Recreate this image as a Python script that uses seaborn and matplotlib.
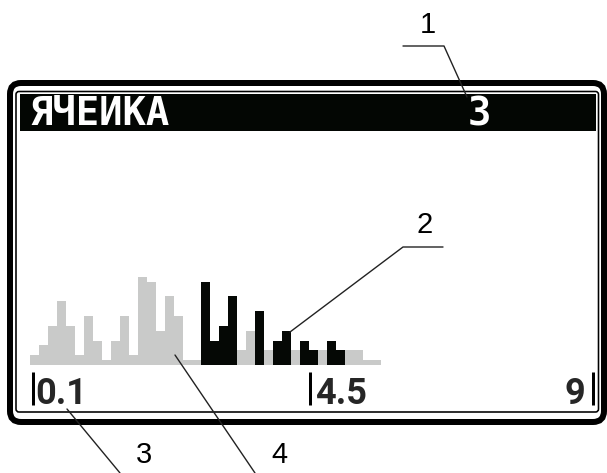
import numpy as np
import pandas as pd
import matplotlib
matplotlib.use("Agg")
import matplotlib.pyplot as plt
import seaborn as sns
from matplotlib.patches import FancyBboxPatch, Rectangle

sns.set_style("white")

# histogram data (LCD rows per bin)
bin_no = list(range(39))
fon = [2, 4, 8, 13, 8, 2, 10, 5, 1, 5, 10, 2, 18, 17, 7, 14, 10, 1, 1,
       1, 1, 1, 1, 3, 7, 3, 3, 3, 3, 3, 3, 3, 3, 3, 3, 3, 3, 1, 1]
yacheika = [0, 0, 0, 0, 0, 0, 0, 0, 0, 0, 0, 0, 0, 0, 0, 0, 0, 0, 0,
            17, 5, 8, 14, 0, 0, 11, 0, 5, 7, 0, 5, 3, 0, 5, 3, 0, 0, 0, 0]

baslik = "ЯЧЕИКА"
hucre_no = "3"
alt_etiketler = ["0.1", "4.5", "9"]
cagri = ["1", "2", "3", "4"]

df = pd.DataFrame({"bin": bin_no, "fon": fon, "yacheika": yacheika})

W, H = 607, 473
fig = plt.figure(figsize=(W / 100, H / 100), dpi=100, facecolor="white")

# histogram axes, placed in pixel box
hx0, hbase, hw, hh = 30, 365, 351, 98
hx = fig.add_axes([hx0 / W, (H - hbase) / H, hw / W, hh / H])
sns.barplot(data=df, x="bin", y="fon", color="#c9cac9", width=1,
            saturation=1, linewidth=0, ax=hx)
sns.barplot(data=df, x="bin", y="yacheika", color="#050805", width=1,
            saturation=1, linewidth=0, ax=hx)
hx.set_xlim(-0.5, 38.5)
hx.set_ylim(0, 20)
hx.axis("off")
hx.set_zorder(1)

# drawing axes in pixel coordinates
ax = fig.add_axes([0, 0, 1, 1])
ax.set_xlim(0, W)
ax.set_ylim(H, 0)
ax.axis("off")
ax.set_zorder(2)

px = 72 / 100

# outer thick frame
ax.add_patch(FancyBboxPatch((10, 83), 594, 339, boxstyle="round,pad=0,rounding_size=11",
                            fill=False, ec="black", lw=6 * px))
# inner thin frame
ax.add_patch(FancyBboxPatch((16, 91.5), 582.5, 320.5, boxstyle="round,pad=0,rounding_size=3",
                            fill=False, ec="black", lw=1.6 * px))
# header bar
ax.add_patch(Rectangle((19.5, 94), 576.5, 37, fc="#030603", ec="none"))
ax.text(29, 125, baslik, color="white", fontsize=28, fontweight="bold",
        family="DejaVu Sans Mono", ha="left", va="baseline")
ax.text(468, 125, hucre_no, color="white", fontsize=28, fontweight="bold",
        family="DejaVu Sans Mono", ha="left", va="baseline")

# bottom scale labels
for xb in (33, 310, 592.5):
    ax.plot([xb, xb], [372, 405], color="black", lw=3 * px, solid_capstyle="butt")
ax.text(35, 403.5, alt_etiketler[0], fontsize=26, fontweight="bold", family="Roboto",
        ha="left", va="baseline")
ax.text(315, 403.5, alt_etiketler[1], fontsize=26, fontweight="bold", family="Roboto",
        ha="left", va="baseline")
ax.text(585, 403.5, alt_etiketler[2], fontsize=26, fontweight="bold", family="Roboto",
        ha="right", va="baseline")

# callouts
lc = "#222222"
ax.plot([403, 444, 467], [46, 46, 97], color=lc, lw=1.0)
ax.plot([443, 403, 290], [247, 247, 332], color=lc, lw=1.0)
ax.plot([67, 120], [409, 473], color=lc, lw=1.0)
ax.plot([175, 255], [355, 473], color=lc, lw=1.0)

kw = dict(fontsize=21, family="Liberation Sans", ha="center", va="baseline", color="black")
ax.text(428, 33, cagri[0], **kw)
ax.text(425, 233, cagri[1], **kw)
ax.text(144, 463, cagri[2], **kw)
ax.text(279, 463, cagri[3], **kw)

fig.savefig("out.png", dpi=100, facecolor="white")
